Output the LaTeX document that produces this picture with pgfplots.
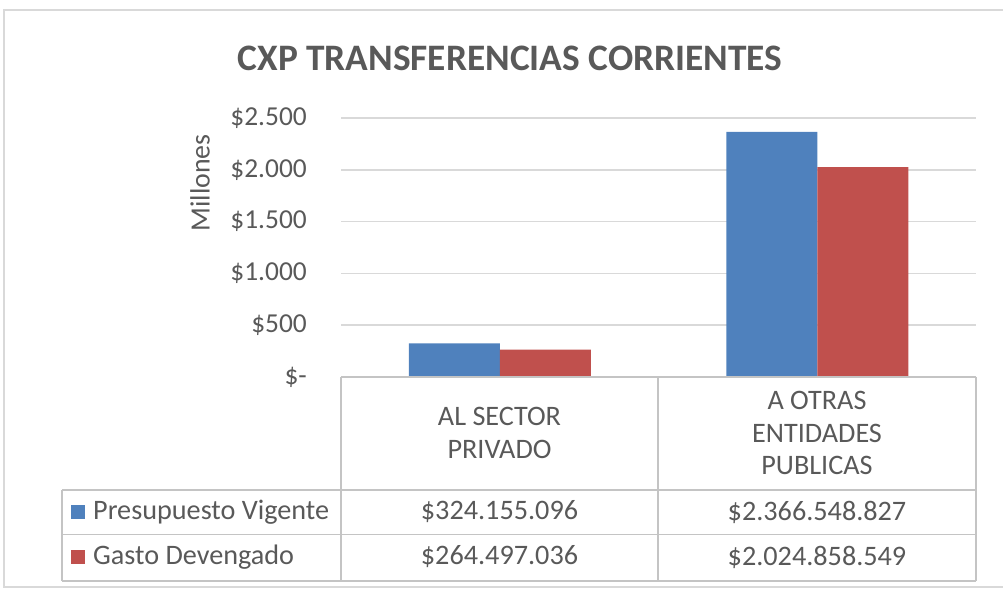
\documentclass[border=0pt]{standalone}
\usepackage{pgfplots}
\pgfplotsset{compat=1.18}
\usepackage{fontspec}
\setmainfont{Carlito}
\definecolor{txt}{HTML}{595959}
\definecolor{gridc}{HTML}{D9D9D9}
\definecolor{tline}{HTML}{C4C4C4}
\definecolor{pblue}{HTML}{4F81BD}
\definecolor{pred}{HTML}{C0504D}
\begin{document}
\begin{tikzpicture}[x=1bp,y=1bp]
\path[use as bounding box] (0,0) rectangle (1003,590);
\draw[gridc, line width=1.5bp] (1003,580) -- (4,580) -- (4,3) -- (1003,3);
\begin{axis}[
  at={(341bp,213bp)}, anchor=south west,
  scale only axis, width=635bp, height=259bp,
  xmin=-0.5, xmax=1.5, ymin=0, ymax=2500,
  xtick=\empty,
  ytick={0,500,1000,1500,2000,2500},
  yticklabels={\$-, \$500, \$1.000, \$1.500, \$2.000, \$2.500},
  axis line style={draw=none},
  major tick length=0pt,
  ymajorgrids, grid style={gridc, line width=1.5bp},
  ybar=0pt, bar width=91bp,
  /pgf/number format/assume math mode=true,
  tick label style={font=\fontsize{27.5}{30}\selectfont, text=txt},
  yticklabel style={inner sep=0pt, anchor=east, xshift=-34bp},
  ylabel=Millones,
  ylabel style={font=\fontsize{28}{30}\selectfont, text=txt, at={(axis description cs:-0.222,0.749)}, anchor=center},
  title={CXP TRANSFERENCIAS CORRIENTES},
  title style={font=\fontsize{37.5}{40}\selectfont\bfseries, text=txt, at={(axis description cs:0.266,1.208)}, anchor=center},
]
\addplot[fill=pblue, draw=none] coordinates {(0,324.155096) (1,2366.548827)};
\addplot[fill=pred, draw=none] coordinates {(0,264.497036) (1,2024.858549)};
\end{axis}
% data table
\begin{scope}[draw=tline, line width=1.5bp]
\draw (341,213) -- (976,213);
\draw (62,100) -- (976,100);
\draw (62,55.5) -- (976,55.5);
\draw (62,9) -- (976,9);
\draw (341,213) -- (341,9);
\draw (658,213) -- (658,9);
\draw (976,213) -- (976,9);
\draw (62,100) -- (62,9);
\end{scope}
\begin{scope}[every node/.style={text=txt, font=\fontsize{28.3}{33}\selectfont, inner sep=0pt}]
\node[align=center] at (499.5,157) {AL SECTOR\\PRIVADO};
\node[align=center] at (817,157) {A OTRAS\\ENTIDADES\\PUBLICAS};
\node at (499.5,78) {\$324.155.096};
\node at (817,78) {\$2.366.548.827};
\node at (499.5,33) {\$264.497.036};
\node at (817,33) {\$2.024.858.549};
\fill[pblue] (71,71) rectangle (85,85);
\fill[pred] (71,26) rectangle (85,40);
\node[anchor=west] at (93,78) {Presupuesto Vigente};
\node[anchor=west] at (93,33) {Gasto Devengado};
\end{scope}
\end{tikzpicture}
\end{document}
